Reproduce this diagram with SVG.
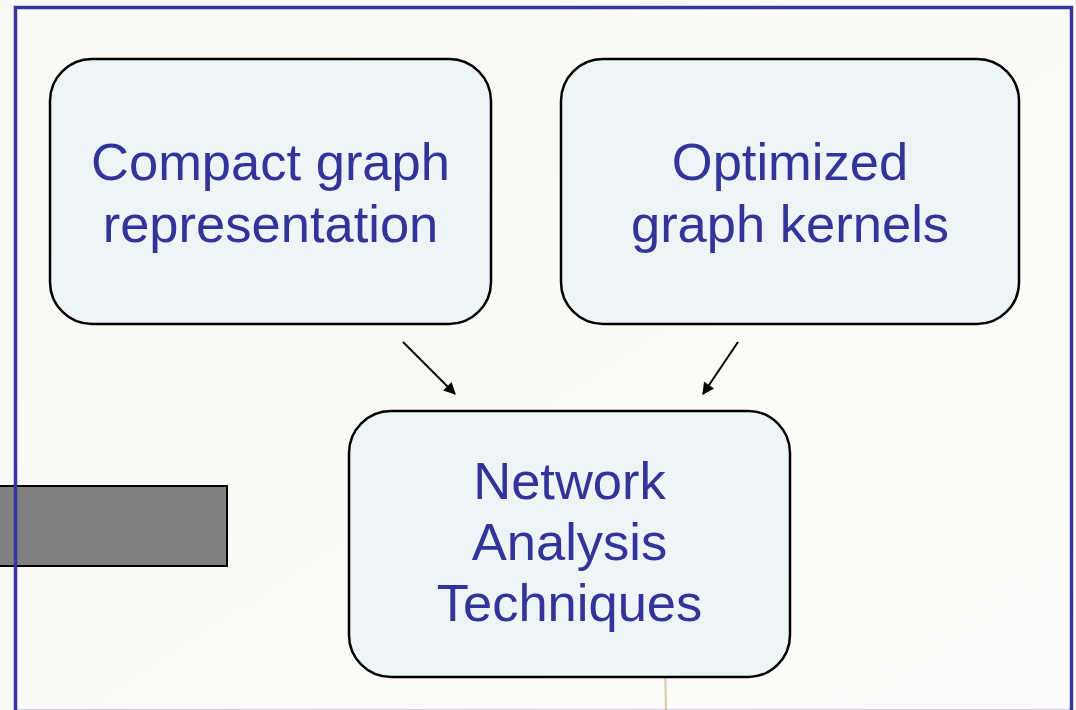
<svg xmlns="http://www.w3.org/2000/svg" width="1076" height="710" viewBox="0 0 1076 710">
<defs>
<linearGradient id="bg" x1="0" y1="0" x2="1" y2="1">
<stop offset="0" stop-color="#f9f8f5"/>
<stop offset="1" stop-color="#fdfcfa"/>
</linearGradient>
<marker id="ah" viewBox="0 0 10 10" refX="9" refY="5" markerWidth="15" markerHeight="12" markerUnits="userSpaceOnUse" orient="auto">
<path d="M0,0 L10,5 L0,10 z" fill="#000"/>
</marker>
<style>
.node{fill:#eef5f7;stroke:#000;stroke-width:2.5}
.lbl{font-family:"Liberation Sans",Arial,sans-serif;font-size:52.5px;fill:#33339a;text-anchor:middle}
.conn{stroke:#000;stroke-width:2;fill:none}
</style>
</defs>
<rect x="0" y="0" width="1076" height="710" fill="url(#bg)"/>
<line x1="665" y1="662" x2="666" y2="710" stroke="#d9c9a6" stroke-width="2"/>
<rect x="-5" y="486" width="232" height="80" fill="#808080" stroke="#000" stroke-width="2"/>
<rect x="15.5" y="7.5" width="1056" height="704" fill="none" stroke="#3636a0" stroke-width="3.5"/>
<g id="connectors">
<line class="conn" x1="403" y1="342" x2="455" y2="394" marker-end="url(#ah)"/>
<line class="conn" x1="738" y1="342" x2="703" y2="394" marker-end="url(#ah)"/>
</g>
<g id="compact">
<rect class="node" x="50" y="59" width="441" height="265" rx="42"/>
<text class="lbl" x="270.5" y="180">Compact graph</text>
<text class="lbl" x="270.5" y="242">representation</text>
</g>
<g id="optimized">
<rect class="node" x="561" y="59" width="458" height="265" rx="42"/>
<text class="lbl" x="790" y="180">Optimized</text>
<text class="lbl" x="790" y="242">graph kernels</text>
</g>
<g id="network">
<rect class="node" x="349" y="411" width="441" height="266" rx="42"/>
<text class="lbl" x="569.5" y="499">Network</text>
<text class="lbl" x="569.5" y="560">Analysis</text>
<text class="lbl" x="569.5" y="621">Techniques</text>
</g>
</svg>
